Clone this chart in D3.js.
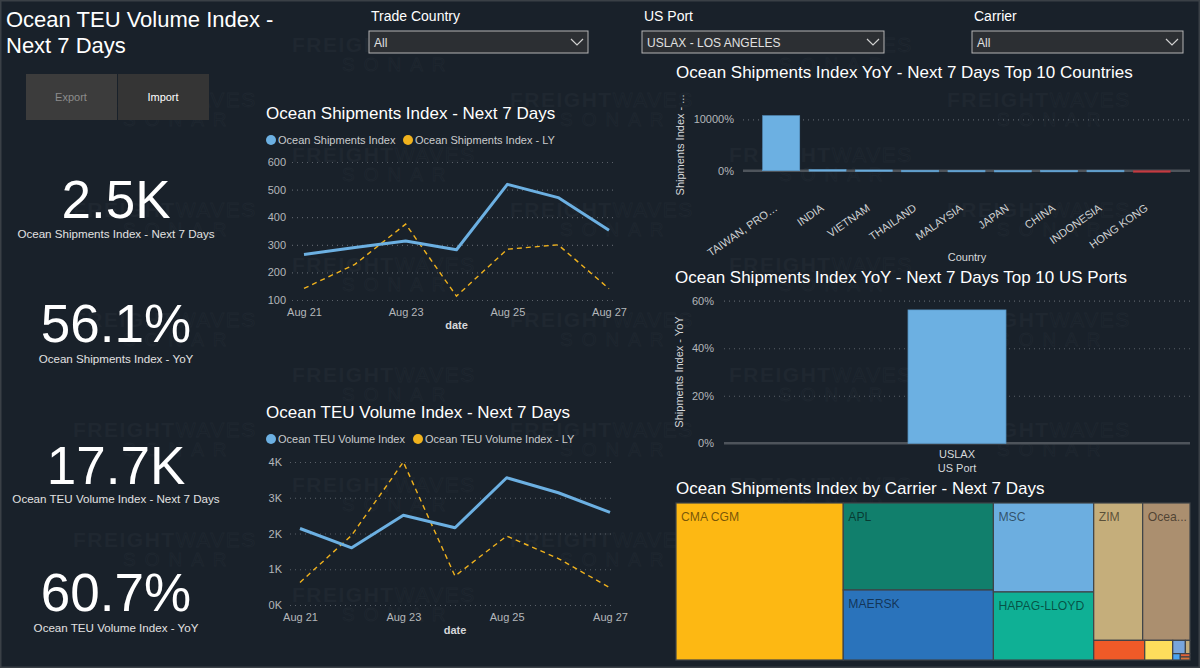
<!DOCTYPE html>
<html>
<head>
<meta charset="utf-8">
<script src="https://cdn.jsdelivr.net/npm/d3@7"></script>
<style>
  html, body { margin: 0; padding: 0; background: #19212a; overflow: hidden; }
  svg { display: block; font-family: "Liberation Sans", Arial, sans-serif; }
</style>
</head>
<body>
<div id="page"></div>
<script>
// ---- data ----
const days = ['Aug 21', 'Aug 22', 'Aug 23', 'Aug 24', 'Aug 25', 'Aug 26', 'Aug 27'];
const dayTicks = ['Aug 21', 'Aug 23', 'Aug 25', 'Aug 27'];

const shipmentsIndex = [265, 290, 314, 282, 519, 471, 353];
const shipmentsIndexLY = [142, 229, 375, 114, 284, 300, 141];
const shipmentsTicks = [100, 200, 300, 400, 500, 600];

const teuIndex = [2140, 1600, 2510, 2160, 3560, 3140, 2590];
const teuIndexLY = [630, 1950, 4000, 810, 1930, 1300, 480];
const teuTicks = [0, 1000, 2000, 3000, 4000];

const countries = ['TAIWAN, PROVINCE OF CHINA', 'INDIA', 'VIETNAM', 'THAILAND', 'MALAYSIA', 'JAPAN', 'CHINA', 'INDONESIA', 'HONG KONG'];
const countryYoY = [10700, 220, 150, 90, 80, 70, 80, 90, -70];
const countryTicks = [0, 10000];

const ports = ['USLAX'];
const portYoY = [56.1];
const portTicks = [0, 20, 40, 60];

const carriers = ['CMA CGM', 'APL', 'MAERSK', 'MSC', 'HAPAG-LLOYD', 'ZIM', 'Ocean Network Express', 'COSCO', 'EVERGREEN', 'YANG MING', 'WAN HAI', 'HMM', 'PIL', 'SM LINE'];
const carrierShipments = [812, 404, 325, 276, 211, 208, 201, 31, 17, 5.2, 1.9, 1.5, 1.0, 0.9];
const carrierColors = ['#fdb813', '#117f6c', '#2a73bb', '#6caee0', '#0fb095', '#c5ae7b', '#ab8f6f', '#f05a28', '#fddd5c', '#78a5dc', '#c5ae7b', '#4aa3f0', '#e0623a', '#d8743a'];

const kpiValues = ['2.5K', '56.1%', '17.7K', '60.7%'];
const kpiLabels = ['Ocean Shipments Index - Next 7 Days', 'Ocean Shipments Index - YoY', 'Ocean TEU Volume Index - Next 7 Days', 'Ocean TEU Volume Index - YoY'];

const filterLabels = ['Trade Country', 'US Port', 'Carrier'];
const filterValues = ['All', 'USLAX - LOS ANGELES', 'All'];

// ---- page ----
const W = 1200, H = 668;
const BLUE = '#6cb0e2', GOLD = '#f0b21d';
const svg = d3.select('#page').append('svg').attr('width', W).attr('height', H);

svg.append('rect').attr('width', W).attr('height', H).attr('fill', '#19212a');

// faint FreightWaves Sonar watermark, staggered grid
const wm = svg.append('g').attr('class', 'watermark');
const WM = '#1f2730';
function watermark(x, y) {
  const g = wm.append('g').attr('transform', `translate(${x},${y})`);
  const t = g.append('text').attr('font-size', 21).attr('letter-spacing', 1.5);
  t.append('tspan').attr('font-weight', 'bold').attr('fill', WM).text('FREIGHT');
  t.append('tspan').attr('fill', 'none').attr('stroke', WM).attr('stroke-width', 0.8).text('WAVES');
  g.append('text').attr('x', 50).attr('y', 19).attr('font-size', 19).attr('letter-spacing', 9)
    .attr('fill', 'none').attr('stroke', WM).attr('stroke-width', 0.8).text('SONAR');
}
for (let k = 0; k < 12; k++) {
  const y = 52 + 55 * k;
  if (y + 24 > H) break;
  for (let x = (k % 2 === 0 ? -145 : 73); x < W; x += 437) {
    if (x >= 0 && x + 195 <= W) watermark(x, y);
  }
}

// page title
svg.append('text').attr('x', 6).attr('y', 27).attr('font-size', 22).attr('fill', '#fff').text('Ocean TEU Volume Index -');
svg.append('text').attr('x', 6).attr('y', 53).attr('font-size', 22).attr('fill', '#fff').text('Next 7 Days');

// export / import buttons
[['Export', 26, '#3c3c3c', '#8c8c8c'], ['Import', 118, '#353535', '#ffffff']].forEach(([name, x, bg, fg]) => {
  svg.append('rect').attr('x', x).attr('y', 74).attr('width', 91).attr('height', 46).attr('fill', bg);
  svg.append('text').attr('x', x + 45).attr('y', 101).attr('text-anchor', 'middle')
    .attr('font-size', 11).attr('fill', fg).text(name);
});

// slicers
const filterX = [369, 642, 972];
const filterW = [219, 242, 211];
filterLabels.forEach((lab, i) => {
  const x = filterX[i], w = filterW[i];
  svg.append('text').attr('x', x + 2).attr('y', 21).attr('font-size', 14).attr('fill', '#fff').text(lab);
  svg.append('rect').attr('x', x).attr('y', 31).attr('width', w).attr('height', 22)
    .attr('fill', '#2c2f33').attr('stroke', '#b4b4b4').attr('stroke-width', 1);
  svg.append('text').attr('x', x + 5).attr('y', 47).attr('font-size', 12).attr('fill', '#e0e0e0').text(filterValues[i]);
  svg.append('path').attr('d', `M${x + w - 17},39 l6,6 l6,-6`).attr('fill', 'none')
    .attr('stroke', '#d0d0d0').attr('stroke-width', 1.2);
});

// KPI cards
const kpiNumY = [218, 342, 484, 611];
const kpiLabY = [238, 363, 503, 632];
kpiValues.forEach((v, i) => {
  svg.append('text').attr('x', 116).attr('y', kpiNumY[i]).attr('text-anchor', 'middle')
    .attr('font-size', 53).attr('fill', '#fff').text(v);
  svg.append('text').attr('x', 116).attr('y', kpiLabY[i]).attr('text-anchor', 'middle')
    .attr('font-size', 11.6).attr('fill', '#e2e2e2').text(kpiLabels[i]);
});

function styleAxis(g, size) {
  g.select('.domain').remove();
  g.selectAll('text').attr('fill', '#b4b7ba').attr('font-size', size || 11)
    .attr('font-family', '"Liberation Sans", Arial, sans-serif');
}

function gridlines(y, values, x0, x1) {
  const g = svg.append('g').attr('transform', `translate(${x0},0)`)
    .call(d3.axisLeft(y).tickValues(values).tickSize(-(x1 - x0)).tickFormat(''));
  g.select('.domain').remove();
  g.selectAll('line').attr('stroke', '#5a6068').attr('stroke-dasharray', '1,4').attr('stroke-width', 1.2);
}

// line chart with current + last year
function lineChart(o) {
  svg.append('text').attr('x', 266).attr('y', o.titleY).attr('font-size', 17).attr('fill', '#fff').text(o.title);
  o.legend.forEach((name, i) => {
    svg.append('circle').attr('cx', o.legendX[i]).attr('cy', o.legendY).attr('r', 5).attr('fill', i ? GOLD : BLUE);
    svg.append('text').attr('x', o.legendX[i] + 7).attr('y', o.legendY + 4).attr('font-size', 11)
      .attr('fill', '#c9cbcd').text(name);
  });

  const x = d3.scalePoint().domain(days).range(o.xRange);
  const y = d3.scaleLinear().domain(o.yDomain).range(o.yRange);

  gridlines(y, o.ticks, o.gridX[0], o.gridX[1]);

  const ya = svg.append('g').attr('transform', `translate(${o.gridX[0]},0)`)
    .call(d3.axisLeft(y).tickValues(o.ticks).tickSize(0).tickPadding(o.gridX[0] - o.labelX).tickFormat(o.fmt));
  styleAxis(ya);

  const xa = svg.append('g').attr('transform', `translate(0,${o.yRange[0]})`)
    .call(d3.axisBottom(x).tickValues(dayTicks).tickSize(0).tickPadding(o.xPad));
  styleAxis(xa);

  svg.append('text').attr('x', d3.mean(o.xRange)).attr('y', o.dateY).attr('text-anchor', 'middle')
    .attr('font-size', 11).attr('font-weight', 'bold').attr('fill', '#d6d8da').text('date');

  const line = d3.line().x((d, i) => x(days[i])).y(d => y(d));
  svg.append('path').datum(o.ly).attr('d', line).attr('fill', 'none')
    .attr('stroke', GOLD).attr('stroke-width', 1.4).attr('stroke-dasharray', '5,4');
  svg.append('path').datum(o.cur).attr('d', line).attr('fill', 'none')
    .attr('stroke', BLUE).attr('stroke-width', 3).attr('stroke-linejoin', 'round');
}

lineChart({
  title: 'Ocean Shipments Index - Next 7 Days', titleY: 119,
  legend: ['Ocean Shipments Index', 'Ocean Shipments Index - LY'], legendX: [271, 408], legendY: 140,
  xRange: [304, 609], yDomain: [100, 600], yRange: [300, 162],
  ticks: shipmentsTicks, fmt: d3.format('d'), gridX: [292, 615], labelX: 286,
  xPad: 8, dateY: 329, cur: shipmentsIndex, ly: shipmentsIndexLY
});

lineChart({
  title: 'Ocean TEU Volume Index - Next 7 Days', titleY: 418,
  legend: ['Ocean TEU Volume Index', 'Ocean TEU Volume Index - LY'], legendX: [271, 418], legendY: 439,
  xRange: [300, 610], yDomain: [0, 4000], yRange: [605, 462],
  ticks: teuTicks, fmt: d => (d / 1000) + 'K', gridX: [290, 615], labelX: 282,
  xPad: 8, dateY: 634, cur: teuIndex, ly: teuIndexLY
});

// ---- top 10 countries ----
svg.append('text').attr('x', 676).attr('y', 78).attr('font-size', 17).attr('fill', '#fff')
  .text('Ocean Shipments Index YoY - Next 7 Days Top 10 Countries');
{
  const x = d3.scaleBand().domain(countries).range([743, 1190]).paddingInner(0.2).paddingOuter(0.425);
  const y = d3.scaleLinear().domain([0, 10000]).range([170.7, 119.3]);

  gridlines(y, countryTicks.slice(1), 743, 1190);
  const ya = svg.append('g').attr('transform', 'translate(743,0)')
    .call(d3.axisLeft(y).tickValues(countryTicks).tickSize(0).tickPadding(9).tickFormat(d => d + '%'));
  styleAxis(ya);

  svg.append('line').attr('x1', 743).attr('x2', 1190).attr('y1', y(0)).attr('y2', y(0))
    .attr('stroke', '#4e545b').attr('stroke-width', 2.5);

  svg.append('g').selectAll('rect').data(countryYoY).join('rect')
    .attr('x', (d, i) => x(countries[i]))
    .attr('width', x.bandwidth())
    .attr('y', d => d >= 0 ? y(d) : y(0))
    .attr('height', d => Math.max(1.6, Math.abs(y(d) - y(0))))
    .attr('fill', d => d >= 0 ? BLUE : '#c43b42')
    .attr('stroke', d => d >= 0 ? '#5b9bcb' : '#a83238').attr('stroke-width', 0.6);

  const xa = svg.append('g').attr('transform', `translate(0,${y(0)})`)
    .call(d3.axisBottom(x).tickSize(0).tickFormat(d => d.length > 14 ? d.slice(0, 11) + '…' : d));
  styleAxis(xa);
  xa.selectAll('text').attr('fill', '#cfd1d3').attr('text-anchor', 'end')
    .attr('x', 0).attr('y', 0).attr('dy', 0)
    .attr('transform', 'translate(-3,39) rotate(-35)');

  svg.append('text').attr('x', 967).attr('y', 261).attr('text-anchor', 'middle')
    .attr('font-size', 11).attr('fill', '#d6d8da').text('Country');
  svg.append('text').attr('transform', 'translate(684,145) rotate(-90)').attr('text-anchor', 'middle')
    .attr('font-size', 11).attr('fill', '#d6d8da').text('Shipments Index - ...');
}

// ---- top 10 US ports ----
svg.append('text').attr('x', 675).attr('y', 283).attr('font-size', 17).attr('fill', '#fff')
  .text('Ocean Shipments Index YoY - Next 7 Days Top 10 US Ports');
{
  const x = d3.scaleBand().domain(ports).range([724, 1190]).paddingInner(0).paddingOuter(1.88);
  const y = d3.scaleLinear().domain([0, 60]).range([443.3, 300.7]);

  gridlines(y, portTicks.slice(1), 724, 1190);
  const ya = svg.append('g').attr('transform', 'translate(724,0)')
    .call(d3.axisLeft(y).tickValues(portTicks).tickSize(0).tickPadding(10).tickFormat(d => d + '%'));
  styleAxis(ya);

  svg.append('line').attr('x1', 724).attr('x2', 1190).attr('y1', y(0)).attr('y2', y(0))
    .attr('stroke', '#4e545b').attr('stroke-width', 2.5);

  svg.append('g').selectAll('rect').data(portYoY).join('rect')
    .attr('x', (d, i) => x(ports[i])).attr('width', x.bandwidth())
    .attr('y', d => y(d)).attr('height', d => y(0) - y(d))
    .attr('fill', BLUE).attr('stroke', '#5b9bcb').attr('stroke-width', 0.8);

  const xa = svg.append('g').attr('transform', `translate(0,${y(0)})`)
    .call(d3.axisBottom(x).tickSize(0).tickPadding(7));
  styleAxis(xa);
  xa.selectAll('text').attr('fill', '#d6d8da');

  svg.append('text').attr('x', x(ports[0]) + x.bandwidth() / 2).attr('y', 472).attr('text-anchor', 'middle')
    .attr('font-size', 11).attr('fill', '#d6d8da').text('US Port');
  svg.append('text').attr('transform', 'translate(683,372) rotate(-90)').attr('text-anchor', 'middle')
    .attr('font-size', 11).attr('fill', '#d6d8da').text('Shipments Index - YoY');
}

// ---- carrier treemap ----
svg.append('text').attr('x', 676).attr('y', 494).attr('font-size', 17).attr('fill', '#fff')
  .text('Ocean Shipments Index by Carrier - Next 7 Days');
{
  const root = d3.hierarchy({ children: carriers.map((c, i) => ({ name: c, value: carrierShipments[i], color: carrierColors[i] })) })
    .sum(d => d.value || 0)
    .sort((a, b) => b.value - a.value);
  d3.treemap().size([514, 157]).tile(d3.treemapSquarify)(root);

  const g = svg.append('g').attr('transform', 'translate(676,503)');
  const cell = g.selectAll('g').data(root.leaves()).join('g')
    .attr('transform', d => `translate(${d.x0},${d.y0})`);
  cell.append('rect')
    .attr('width', d => d.x1 - d.x0).attr('height', d => d.y1 - d.y0)
    .attr('fill', d => d.data.color).attr('stroke', '#3f4348').attr('stroke-width', 1.2);

  cell.filter(d => d.x1 - d.x0 > 30 && d.y1 - d.y0 > 30).append('text')
    .attr('x', 5).attr('y', 18).attr('font-size', 12.2).attr('fill', '#000').attr('fill-opacity', 0.55)
    .text(d => d.data.name)
    .each(function(d) {
      const el = d3.select(this), maxW = d.x1 - d.x0 - 8;
      let t = d.data.name;
      while (this.getComputedTextLength() > maxW && t.length > 1) {
        t = t.slice(0, -1);
        el.text(t + '...');
      }
    });
}

// canvas frame
svg.append('rect').attr('x', 0.75).attr('y', 0.75).attr('width', W - 1.5).attr('height', H - 1.5)
  .attr('fill', 'none').attr('stroke', '#3a4046').attr('stroke-width', 1.5);
</script>
</body>
</html>
